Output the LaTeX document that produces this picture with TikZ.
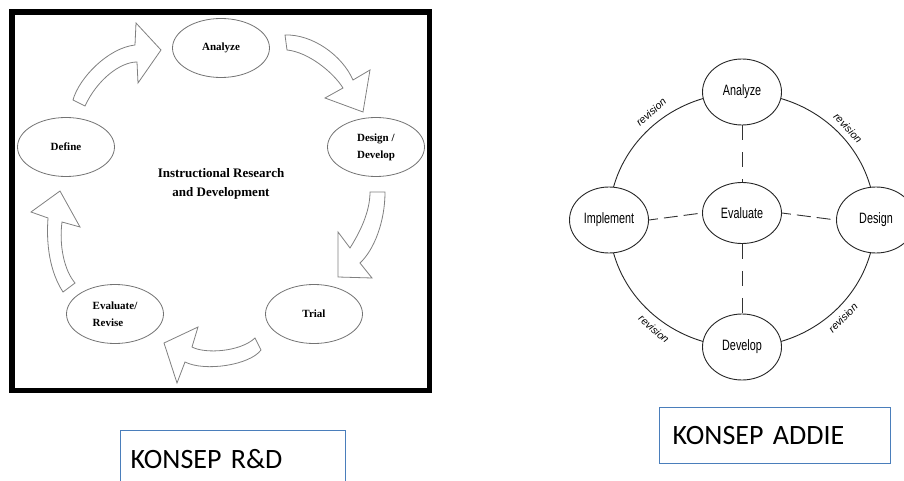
\documentclass[tikz,border=0pt]{standalone}
\usepackage{fontspec}
\setmainfont{Liberation Serif}
\newfontfamily\narrowsf[FakeStretch=0.72]{Liberation Sans}
\newfontfamily\revfont{Liberation Sans}
\newfontfamily\calibri{Carlito}
\usetikzlibrary{shapes.geometric}
\definecolor{boxblue}{HTML}{4A7EBB}
\begin{document}
\begin{tikzpicture}[x=1pt,y=-1pt,
  lellipse/.style={ellipse, draw=black!55, line width=0.8pt, minimum width=97pt, minimum height=59pt,
    inner sep=0pt, font=\fontsize{11}{17}\selectfont\bfseries, align=left},
  blockarrow/.style={draw=black!50, line width=0.8pt, fill=white, line join=miter},
  rellipse/.style={ellipse, draw=black!85, line width=0.9pt, fill=white, minimum width=79pt,
    minimum height=66pt, inner sep=0pt, font=\narrowsf\fontsize{15}{18}\selectfont},
  vdash/.style={draw=black!80, line width=0.9pt, dash pattern=on 15pt off 12pt},
  hdash/.style={draw=black!80, line width=0.9pt, dash pattern=on 14pt off 6pt, dash phase=5pt},
  revlabel/.style={font=\revfont\itshape\fontsize{10.5}{12}\selectfont, inner sep=0pt},
  konsep/.style={draw=boxblue, line width=1.4pt, minimum height=56pt, anchor=north west,
    align=left, font=\calibri\fontsize{28}{32}\selectfont, fill=white}
]
\useasboundingbox (0,0) rectangle (904,481);
\clip (0,0) rectangle (904,481);

% ---------------- Left: R&D cycle ----------------
\draw[line width=5.5pt] (12,12) rectangle (429.5,390.5);

\node[lellipse] (an) at (221,48) {Analyze};
\node[lellipse] (df) at (66,147) {Define};
\node[lellipse] (dd) at (376,147) {Design /\\Develop};
\node[lellipse] (ev) at (115,314) {Evaluate/\\Revise};
\node[lellipse] (tr) at (314,314) {Trial};
\node[align=center, font=\fontsize{13}{19}\selectfont\bfseries] (ctr) at (221,184)
  {Instructional Research\\and Development};

% block arrows (shapes)
\draw[blockarrow] (73,100) .. controls (79,78) and (108,48) .. (135,45) -- (136,23) -- (161,50)
  -- (138,83) -- (137,62) .. controls (120,62) and (97,80) .. (85,106) -- cycle;
\draw[blockarrow] (285,35) .. controls (312,34) and (342,55) .. (353,80) -- (370,70) -- (363,112)
  -- (325,98) -- (343,88) .. controls (333,72) and (308,52) .. (287,50) -- cycle;
\draw[blockarrow] (385,192) .. controls (385,222) and (374,250) .. (360,263) -- (372,278) -- (338,277)
  -- (338,232) -- (350,248) .. controls (360,232) and (370,212) .. (370,192) -- cycle;
\draw[blockarrow] (261,350) .. controls (250,365) and (205,372) .. (185,362) -- (177,383) -- (164,343)
  -- (198,327) -- (192,347) .. controls (205,354) and (240,352) .. (255,338) -- cycle;
\draw[blockarrow] (63,292) .. controls (50,272) and (46,245) .. (48,218) -- (31,212) -- (60,191)
  -- (80,227) -- (62,222) .. controls (59,245) and (64,270) .. (75,283) -- cycle;

% ---------------- Right: ADDIE ----------------
\coordinate (cc) at (742,220);
\draw[black!85, line width=0.9pt] (cc) ellipse [x radius=133pt, y radius=127pt];

\node[rellipse] (A) at (742,92) {Analyze};
\node[rellipse] (Dv) at (742,347) {Develop};
\node[rellipse] (I) at (609,220) {Implement};
\node[rellipse] (Ds) at (876,220) {Design};
\node[rellipse, minimum height=61pt] (E) at (742,213) {Evaluate};

\draw[vdash] (A.south) -- (E.north);
\draw[vdash] (E.south) -- (Dv.north);
\draw[hdash] (I.east) -- (E.west);
\draw[hdash] (E.east) -- (Ds.west);

\node[revlabel, rotate=42] (r1) at (651,112) {revision};
\node[revlabel, rotate=-47] (r2) at (848,128) {revision};
\node[revlabel, rotate=-41] (r3) at (654,329) {revision};
\node[revlabel, rotate=45] (r4) at (843,318) {revision};

% ---------------- Bottom boxes ----------------
\node[konsep, text width=205pt, inner xsep=10pt] (brd) at (120,430) {KONSEP R\&D};
\node[konsep, text width=205pt, inner xsep=13pt] (badd) at (659,407) {KONSEP ADDIE};
\end{tikzpicture}
\end{document}
